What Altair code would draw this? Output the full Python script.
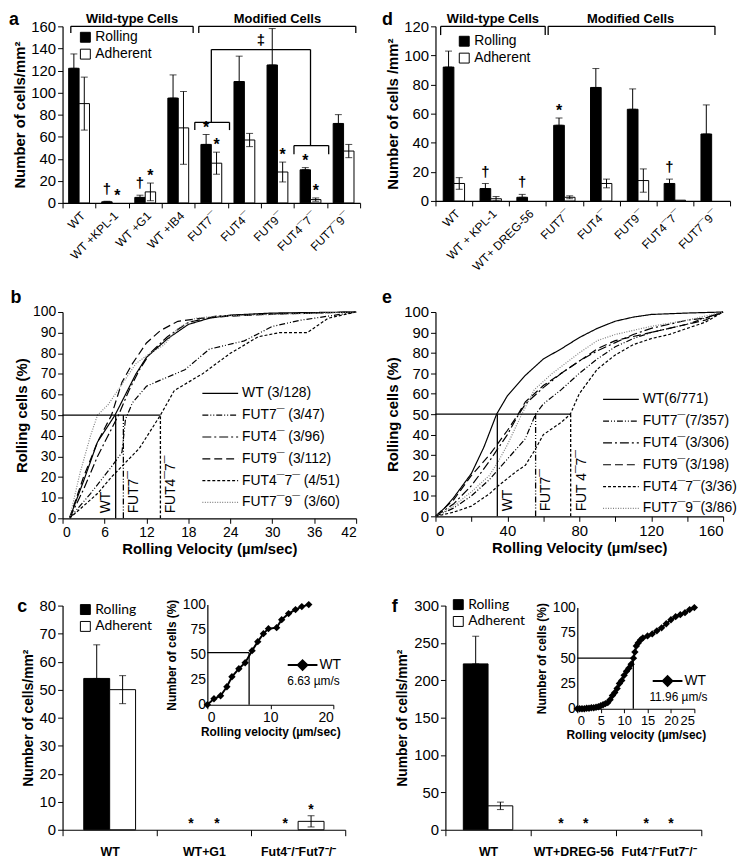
import altair as alt
import pandas as pd

FONT = "Liberation Sans"
CAL = "Lato"

# ---------------- Panel a ----------------
a_cats = ["WT", "WT +KPL-1", "WT +G1", "WT +IB4", "FUT7¯", "FUT4¯", "FUT9¯", "FUT4¯7¯", "FUT7¯9¯"]
a_roll = [122, 1, 5, 95, 53, 110, 125, 30, 72]
a_roll_err = [13, 0.5, 2, 21, 9, 23, 33, 2, 8]
a_adh = [90, 0, 10, 68, 36, 57, 28, 3, 47]
a_adh_err = [24, 0, 8, 33, 10, 6, 9, 1.5, 6]
a_sig_roll = ["", "†", "†", "", "*", "", "", "*", ""]
a_sig_adh = ["", "*", "*", "", "*", "", "*", "*", ""]
a_groups = ["Wild-type Cells", "Modified Cells"]

# ---------------- Panel d ----------------
d_cats = ["WT", "WT + KPL-1", "WT+ DREG-56", "FUT7¯", "FUT4¯", "FUT9¯", "FUT4¯7¯", "FUT7¯9¯"]
d_roll = [92, 8.5, 2.5, 52, 78, 63, 12, 46]
d_roll_err = [11, 3.5, 2, 5, 13, 14, 3, 20]
d_adh = [12, 1.5, 0, 2.5, 12, 14, 0.5, 0]
d_adh_err = [4, 1.5, 0, 1, 3, 8, 0, 0]
d_sig_roll = ["", "†", "†", "*", "", "", "†", ""]
d_sig_adh = ["", "", "", "", "", "", "", ""]
d_groups = ["Wild-type Cells", "Modified Cells"]

# ---------------- Panel b ----------------
b_series = ["WT (3/128)", "FUT7¯ (3/47)", "FUT4¯ (3/96)", "FUT9¯ (3/112)", "FUT4¯7¯ (4/51)", "FUT7¯9¯ (3/60)"]
b_x = [
    [1, 3, 5, 7.5, 9, 10.5, 12, 15, 18, 21, 24, 30, 42],
    [1, 4, 7, 8.5, 9, 10, 12, 14, 17.5, 21, 26, 30, 34, 38, 42],
    [1, 3, 5, 6.5, 8, 9.5, 11, 12.5, 15, 18, 22, 28, 42],
    [1, 3, 5, 7, 8.5, 10, 12, 14, 16.5, 20, 24, 30, 42],
    [1, 3, 5, 7, 9, 11, 14, 16, 20, 24, 28, 31, 35, 38, 42],
    [1, 2.5, 4, 5, 6.5, 8.5, 10.5, 12.5, 14.5, 16.5, 19, 22, 42],
]
b_y = [
    [0, 18, 37, 50, 60, 70, 78, 87, 94, 97, 98.5, 99.5, 100],
    [0, 12, 25, 32, 48, 56, 64, 67, 72, 82, 86, 93, 96, 98, 100],
    [0, 14, 30, 40, 50, 62, 72, 80, 88, 95, 98, 99, 100],
    [0, 20, 37, 50, 66, 75, 85, 91, 95.5, 97, 98, 99, 100],
    [0, 6, 12, 20, 27, 34, 50, 62, 70, 80, 88, 90, 90, 97, 100],
    [0, 22, 40, 50, 55, 65, 75, 80, 84, 92, 97, 98, 100],
]
b_med_series = ["WT (3/128)", "FUT7¯ (3/47)", "FUT4¯7¯ (4/51)"]
b_med_x = [7.6, 8.7, 14.0]
b_med_label = ["WT", "FUT7¯", "FUT4¯7¯"]

# ---------------- Panel e ----------------
e_series = ["WT(6/771)", "FUT7¯(7/357)", "FUT4¯(3/306)", "FUT9¯(3/198)", "FUT4¯7¯(3/36)", "FUT7¯9¯(3/86)"]
e_x = [
    [0, 5, 10, 20, 27, 34, 40, 50, 60, 70, 80, 90, 100, 110, 120, 140, 160],
    [0, 10, 20, 30, 40, 50, 55.7, 60, 70, 80, 90, 100, 110, 120, 140, 160],
    [0, 10, 20, 30, 40, 45, 50, 60, 70, 80, 90, 100, 110, 120, 130, 140, 150, 160],
    [0, 10, 20, 30, 40, 46, 50, 60, 70, 80, 90, 100, 110, 120, 130, 140, 150, 160],
    [0, 10, 20, 30, 35, 45, 50, 55, 60, 65, 70, 75, 80, 90, 100, 110, 120, 130, 140, 150, 160],
    [0, 10, 20, 30, 35, 40, 48, 55, 65, 80, 90, 100, 120, 140, 160],
]
e_y = [
    [0, 4, 9, 21, 34, 50, 59, 69, 77, 82, 87.5, 92, 95.5, 97.5, 98.8, 99.5, 100],
    [0, 4, 10, 18, 28, 38, 50, 55, 62, 70, 77, 83, 87, 90, 94, 100],
    [0, 6, 15, 27, 40, 48, 55, 63, 70, 76, 81, 85, 89, 92, 94, 96, 97, 100],
    [0, 8, 20, 30, 42, 50, 56, 64, 70, 76, 82, 86, 88, 90, 92, 94, 96, 100],
    [0, 2, 5, 11, 15, 22, 25, 32, 40, 43, 46, 50, 60, 72, 79, 84, 87, 89, 92, 95, 100],
    [0, 5, 12, 20, 27, 35, 50, 62, 70, 80, 86, 89, 93, 96, 100],
]
e_med_series = ["WT(6/771)", "FUT7¯(7/357)", "FUT4¯7¯(3/36)"]
e_med_x = [34.4, 55.7, 75.2]
e_med_label = ["WT", "FUT7¯", "FUT 4¯7¯"]

# ---------------- Panel c ----------------
c_cats = ["WT", "WT+G1", "Fut4⁻/⁻Fut7⁻/⁻"]
c_roll = [54, 0, 0]
c_roll_err = [12, 0, 0]
c_adh = [50, 0, 3]
c_adh_err = [5, 0, 2]
c_sig_roll = ["", "*", "*"]
c_sig_adh = ["", "*", "*"]
c_in_x = [0, 1.05, 2.1, 3.1, 3.9, 5.0, 6.0, 7.1, 8.0, 8.9, 9.7, 11.0, 11.8, 12.9, 14.0, 15.0, 16.1]
c_in_y = [0, 6, 9, 18, 28, 36, 42, 54, 63, 71, 76, 77, 85, 91, 95, 98, 100]
c_median = 6.63
c_level = 52

# ---------------- Panel f ----------------
f_cats = ["WT", "WT+DREG-56", "Fut4⁻/⁻Fut7⁻/⁻"]
f_roll = [222, 0, 0]
f_roll_err = [37, 0, 0]
f_adh = [32, 0, 0]
f_adh_err = [5, 0, 0]
f_sig_roll = ["", "*", "*"]
f_sig_adh = ["", "*", "*"]
f_in_x = [0, 0.5, 1, 1.5, 2, 2.5, 3, 3.5, 4, 4.5, 5, 5.5, 6, 6.5, 7, 7.5, 8, 8.5, 9, 9.5, 10, 10.5,
          11, 11.5, 12, 12.3, 12.6, 13, 13.5, 14, 15, 16, 17, 18, 19, 20, 21, 22, 23, 24, 25]
f_in_y = [0, 0, 0, 0, 0.5, 0.5, 1, 1, 1.5, 2, 3, 4, 5, 6, 9, 13, 16, 20, 25, 28, 33, 37,
          40, 44, 50, 56, 62, 65, 68, 70, 72, 74, 77, 80, 84, 88, 91, 93, 95, 98, 100]
f_median = 11.96
f_level = 50

SERIES = ["Rolling", "Adherent"]
DASHES = [[1, 0], [6, 2, 1, 2, 1, 2], [9, 3, 2, 3], [8, 4], [3, 2], [1, 1.5]]
LCOLORS = ["black", "black", "black", "black", "black", "#808080"]


def bar_df(cats, roll, roll_err, adh, adh_err, sig_roll, sig_adh):
    rows = []
    for i, c in enumerate(cats):
        rows.append(dict(cat=c, series="Rolling", v=roll[i], lo=roll[i],
                         hi=roll[i] + roll_err[i], err=roll_err[i], sig=sig_roll[i]))
        rows.append(dict(cat=c, series="Adherent", v=adh[i], lo=max(adh[i] - adh_err[i], 0),
                         hi=adh[i] + adh_err[i], err=adh_err[i], sig=sig_adh[i]))
    return pd.DataFrame(rows)


def bar_group(df, cats, width, ysc, yax, xaxis, frac, legend, star_size):
    bw = width / len(cats)
    half = frac * bw / 2.0
    x = alt.X("cat:N", sort=cats, scale=alt.Scale(domain=cats, paddingInner=0, paddingOuter=0),
              axis=xaxis)

    def Y(f):
        return alt.Y(f + ":Q", scale=ysc, axis=yax)

    fill = alt.Fill("series:N", sort=SERIES,
                    scale=alt.Scale(domain=SERIES, range=["black", "white"]), legend=legend)
    layers = []
    for s, off in zip(SERIES, [-half, half]):
        base = alt.Chart(df).transform_filter(alt.datum.series == s)
        layers.append(base.transform_filter("datum.v > 0").mark_bar(
            stroke="black", strokeWidth=1, width=alt.RelativeBandSize(frac),
            xOffset=off).encode(x=x, y=Y("v"), fill=fill))
        eb = base.transform_filter("datum.err > 0")
        layers.append(eb.mark_rule(color="black", strokeWidth=1, xOffset=off).encode(
            x=x, y=Y("lo"), y2="hi:Q"))
        layers.append(eb.transform_fold(["lo", "hi"], as_=["end", "yv"]).mark_tick(
            color="black", size=7, thickness=1, xOffset=off).encode(x=x, y=Y("yv")))
        layers.append(base.transform_filter("datum.sig == '*'").mark_text(
            baseline="bottom", fontSize=star_size, fontWeight="bold", dy=1, xOffset=off).encode(
            x=x, y=Y("hi"), text="sig:N"))
        layers.append(base.transform_filter("datum.sig == '†'").mark_text(
            baseline="bottom", fontSize=15, fontWeight="bold", dy=-4, xOffset=off).encode(
            x=x, y=Y("hi"), text="sig:N"))
    return alt.layer(*layers)


def seg(x0, x1, y0, y1):
    return dict(x0=x0, x1=x1, y0=y0, y1=y1)


def bracket(x0, x1, y, yl, yr):
    return [seg(x0, x1, y, y), seg(x0, x0, y, yl), seg(x1, x1, y, yr)]


def overlay(segs, texts, n, ysc, yax):
    xs = alt.Scale(domain=[0, n], nice=False)
    sdf = pd.DataFrame(segs)
    tdf = pd.DataFrame(texts)
    rules = alt.Chart(sdf).mark_rule(color="black", strokeWidth=1.3).encode(
        x=alt.X("x0:Q", scale=xs, axis=None), x2="x1:Q",
        y=alt.Y("y0:Q", scale=ysc, axis=yax), y2="y1:Q")
    txt = alt.Chart(tdf).mark_text(baseline="bottom", fontWeight="bold").encode(
        x=alt.X("xm:Q", scale=xs, axis=None), y=alt.Y("ym:Q", scale=ysc, axis=yax),
        text="t:N", size=alt.Size("fs:Q", scale=None, legend=None))
    return alt.layer(rules, txt)


def rot_axis(size):
    return alt.Axis(title=None, labelAngle=-45, tickBand="extent", labelFontSize=size,
                    tickSize=5, labelPadding=2)


def bar_legend(lx, ly, font, size):
    return alt.Legend(title=None, orient="none", legendX=lx, legendY=ly, symbolType="square",
                      symbolStrokeColor="black", symbolStrokeWidth=1, symbolSize=100,
                      labelFont=font, labelFontSize=size, labelOffset=3, rowPadding=3)


# ---- panel a
A_W, A_H = 300, 178
a_df = bar_df(a_cats, a_roll, a_roll_err, a_adh, a_adh_err, a_sig_roll, a_sig_adh)
a_ysc = alt.Scale(domain=[0, 160], nice=False)
a_yax = alt.Axis(values=list(range(0, 161, 20)), title="Number of cells/mm²", labelFontSize=15,
                 titleFontSize=15, tickSize=5, titlePadding=3)
a_bars = bar_group(a_df, a_cats, A_W, a_ysc, a_yax, rot_axis(12), 0.315, bar_legend(16, 4, FONT, 14), 16)
a_segs = (bracket(0.25, 3.95, 160, 154, 154) + bracket(4.12, 8.87, 160, 154, 154)
          + bracket(4.0, 5.05, 73, 66, 66) + bracket(7.0, 8.05, 52, 44, 44)
          + bracket(4.5, 7.5, 139, 73, 52))
a_texts = [dict(t=a_groups[0], xm=2.1, ym=160, fs=13), dict(t=a_groups[1], xm=6.5, ym=160, fs=13),
           dict(t="‡", xm=6.0, ym=140, fs=15)]
pa = alt.layer(a_bars, overlay(a_segs, a_texts, 9, a_ysc, a_yax)).resolve_scale(x="independent").properties(
    width=A_W, height=A_H, title=alt.Title("a", frame="bounds", anchor="start", dy=20, dx=-4))

# ---- panel d
D_W, D_H = 297, 176
d_df = bar_df(d_cats, d_roll, d_roll_err, d_adh, d_adh_err, d_sig_roll, d_sig_adh)
d_ysc = alt.Scale(domain=[0, 120], nice=False)
d_yax = alt.Axis(values=list(range(0, 121, 20)), title="Number of cells /mm²", labelFontSize=15,
                 titleFontSize=15, tickSize=5, titlePadding=3)
d_bars = bar_group(d_df, d_cats, D_W, d_ysc, d_yax, rot_axis(12), 0.29, bar_legend(22, 8, FONT, 14), 16)
d_segs = bracket(0.14, 2.98, 120, 114, 114) + bracket(3.06, 7.59, 120, 114, 114)
d_texts = [dict(t=d_groups[0], xm=1.56, ym=120, fs=13), dict(t=d_groups[1], xm=5.3, ym=120, fs=13)]
pd_ = alt.layer(d_bars, overlay(d_segs, d_texts, 8, d_ysc, d_yax)).resolve_scale(x="independent").properties(
    width=D_W, height=D_H, title=alt.Title("d", frame="bounds", anchor="start", dy=20, dx=-4))


# ---- CDF panels
def cdf_panel(series, xs_list, ys_list, med_series, med_x, med_label, left_first, xmax, xstep,
              w, h, lx, ly, letter, lab_size):
    rows = []
    for s, xs, ys in zip(series, xs_list, ys_list):
        for xv, yv in zip(xs, ys):
            rows.append(dict(series=s, vx=xv, vy=yv))
    df = pd.DataFrame(rows)
    xsc = alt.Scale(domain=[0, xmax], nice=False)
    ysc = alt.Scale(domain=[0, 100], nice=False)
    xax = alt.Axis(values=list(range(0, xmax + 1, xstep)), title="Rolling Velocity (µm/sec)",
                   labelFontSize=lab_size, titleFontSize=15, tickSize=5, titlePadding=2)
    yax = alt.Axis(values=list(range(0, 101, 10)), title="Rolling cells (%)",
                   labelFontSize=lab_size, titleFontSize=15, tickSize=5, titlePadding=3)
    leg = alt.Legend(title=None, orient="none", legendX=lx, legendY=ly, symbolType="stroke",
                     symbolSize=1300, symbolStrokeWidth=1.2, clipHeight=20, rowPadding=2,
                     labelFontSize=14, labelOffset=3)
    dash = alt.StrokeDash("series:N", sort=series, scale=alt.Scale(domain=series, range=DASHES), legend=leg)
    col = alt.Color("series:N", sort=series, scale=alt.Scale(domain=series, range=LCOLORS), legend=leg)
    X = lambda f: alt.X(f + ":Q", scale=xsc, axis=xax)
    Y = lambda f: alt.Y(f + ":Q", scale=ysc, axis=yax)
    lines = alt.Chart(df).mark_line(strokeWidth=1.2).encode(x=X("vx"), y=Y("vy"), strokeDash=dash, color=col)
    mdf = pd.DataFrame(dict(series=med_series, vx=med_x, label=med_label, base=0, lvl=50))
    vr = alt.Chart(mdf).mark_rule(strokeWidth=1.3).encode(x=X("vx"), y=Y("base"), y2="lvl:Q",
                                                           strokeDash=dash, color=col)
    hdf = pd.DataFrame(dict(x0=[0], x1=[max(med_x)], lvl=[50]))
    hr = alt.Chart(hdf).mark_rule(strokeWidth=1.3, color="black").encode(x=X("x0"), x2="x1:Q", y=Y("lvl"))
    layers = [lines, vr, hr]
    if left_first:
        layers.append(alt.Chart(mdf.iloc[:1]).mark_text(angle=270, align="left", baseline="bottom",
                                                         dx=5, dy=-3, fontSize=14).encode(
            x=X("vx"), y=Y("base"), text="label:N"))
        rest = mdf.iloc[1:]
    else:
        rest = mdf
    layers.append(alt.Chart(rest).mark_text(angle=270, align="left", baseline="top",
                                            dx=5, dy=4, fontSize=14).encode(
        x=X("vx"), y=Y("base"), text="label:N"))
    return alt.layer(*layers).properties(
        width=w, height=h, title=alt.Title(letter, frame="bounds", anchor="start", dy=6, dx=-4))


pb = cdf_panel(b_series, b_x, b_y, b_med_series, b_med_x, b_med_label, True, 42, 6,
               296, 208, 140, 72, "b", 14)
pe = cdf_panel(e_series, e_x, e_y, e_med_series, e_med_x, e_med_label, False, 160, 20,
               290, 206, 168, 78, "e", 15)


# ---- insets
def inset(vx, vy, med, lvl, xmax, xstep, xr, yr, h, lx, ly, xlab):
    df = pd.DataFrame(dict(vx=vx, vy=vy, series="WT"))
    xsc = alt.Scale(domain=[0, xmax], range=xr, nice=False)
    ysc = alt.Scale(domain=[0, 100], range=yr, nice=False)
    xax = alt.Axis(orient="bottom", offset=-(h - yr[0]), values=list(range(0, xmax + 1, xstep)),
                   title="Rolling velocity (µm/sec)", labelFontSize=xlab, titleFontSize=12,
                   tickSize=4, titlePadding=2)
    yax = alt.Axis(orient="left", offset=-xr[0], values=[0, 25, 50, 75, 100],
                   title="Number of cells (%)", labelFontSize=14, titleFontSize=12, tickSize=0,
                   titlePadding=4)
    X = lambda f: alt.X(f + ":Q", scale=xsc, axis=xax)
    Y = lambda f: alt.Y(f + ":Q", scale=ysc, axis=yax)
    leg = alt.Legend(title=f"{med} µm/s", titleOrient="bottom", titleAnchor="middle",
                     titleFontWeight="normal", titleFontSize=12, titleFont=FONT, titlePadding=2,
                     orient="none", legendX=lx, legendY=ly,
                     symbolType="M-1,0H1M0,-0.32L0.32,0L0,0.32L-0.32,0Z", symbolSize=900,
                     symbolStrokeWidth=2, symbolStrokeColor="black", symbolFillColor="black",
                     labelFontSize=14, labelOffset=1)
    line = alt.Chart(df).mark_line(color="black", strokeWidth=2).encode(x=X("vx"), y=Y("vy"))
    pts = alt.Chart(df).mark_point(shape="diamond", filled=True, size=55, opacity=1).encode(
        x=X("vx"), y=Y("vy"),
        color=alt.Color("series:N", scale=alt.Scale(domain=["WT"], range=["black"]), legend=leg))
    mdf = pd.DataFrame(dict(z=[0], m=[med], lvl=[lvl]))
    hr = alt.Chart(mdf).mark_rule(color="black", strokeWidth=1.3).encode(x=X("z"), x2="m:Q", y=Y("lvl"))
    vr = alt.Chart(mdf).mark_rule(color="black", strokeWidth=1.3).encode(x=X("m"), y=Y("z"), y2="lvl:Q")
    return alt.layer(hr, vr, line, pts)


def cat_axis():
    return alt.Axis(title=None, labelAngle=0, tickBand="extent", labelFontSize=12.5,
                    labelFontWeight="bold", tickSize=6, labelPadding=10)


# ---- panel c
C_W, C_H = 285, 226
c_df = bar_df(c_cats, c_roll, c_roll_err, c_adh, c_adh_err, c_sig_roll, c_sig_adh)
c_ysc = alt.Scale(domain=[0, 80], nice=False)
c_yax = alt.Axis(values=list(range(0, 81, 10)), title="Number of cells/mm²", labelFontSize=15,
                 tickSize=5, titlePadding=4)
c_bars = bar_group(c_df, c_cats, C_W, c_ysc, c_yax, cat_axis(), 0.275, bar_legend(16, -3, CAL, 14), 14)
pc = alt.layer(c_bars, inset(c_in_x, c_in_y, c_median, c_level, 20, 10, [146, 273], [100, -1], C_H, 226, 44, 14)
               ).resolve_scale(x="independent", y="independent").properties(
    width=C_W, height=C_H, title=alt.Title("c", frame="bounds", anchor="start", dy=22, dx=-4))

# ---- panel f
F_W, F_H = 258, 226
f_df = bar_df(f_cats, f_roll, f_roll_err, f_adh, f_adh_err, f_sig_roll, f_sig_adh)
f_ysc = alt.Scale(domain=[0, 300], nice=False)
f_yax = alt.Axis(values=list(range(0, 301, 50)), title="Number of cells/mm²", labelFontSize=15,
                 tickSize=5, titlePadding=4)
f_bars = bar_group(f_df, f_cats, F_W, f_ysc, f_yax, cat_axis(), 0.29, bar_legend(6, -8, CAL, 14), 14)
pf = alt.layer(f_bars, inset(f_in_x, f_in_y, f_median, f_level, 25, 5, [133, 251], [104, 2], F_H, 206, 60, 13)
               ).resolve_scale(x="independent", y="independent").properties(
    width=F_W, height=F_H, title=alt.Title("f", frame="bounds", anchor="start", dy=22, dx=-4))

row1 = alt.hconcat(pa, pd_, spacing=20).resolve_scale(fill="independent")
row2 = alt.hconcat(pb, pe, spacing=22).resolve_scale(strokeDash="independent", color="independent")
row3 = alt.hconcat(pc, pf, spacing=45).resolve_scale(fill="independent", color="independent")

top = alt.vconcat(row1, row2, spacing=16).resolve_scale(
    fill="independent", color="independent", strokeDash="independent")
chart = alt.vconcat(top, row3, spacing=42).resolve_scale(
    fill="independent", color="independent", strokeDash="independent").properties(
    padding={"left": 0, "top": 0, "right": 0, "bottom": 0})

chart = chart.configure_view(stroke=None).configure_axis(
    grid=False, domainColor="black", tickColor="black", labelColor="black", titleColor="black",
    labelFont=FONT, titleFont=FONT, titleFontWeight="bold", titleFontSize=14, domainWidth=1.2,
).configure_legend(labelFont=FONT, labelColor="black").configure_title(
    font=FONT, fontSize=18, fontWeight="bold", color="black"
).configure_text(font=FONT, color="black")

chart.save("out.html", embed_options={"renderer": "svg", "actions": False})
